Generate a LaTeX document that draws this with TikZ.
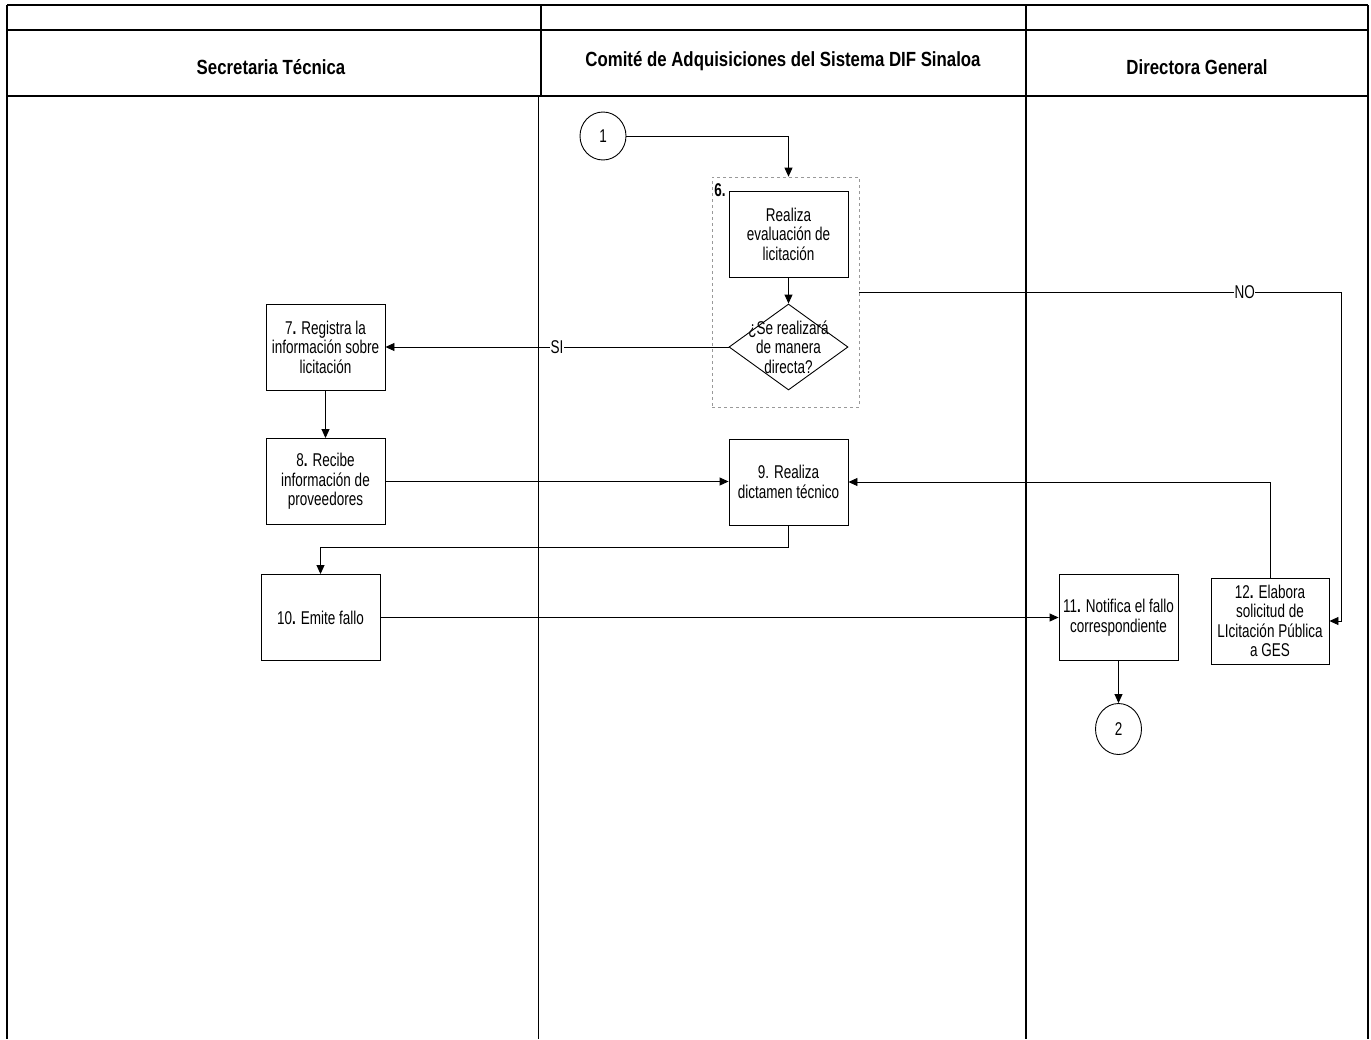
\documentclass[tikz,border=0pt]{standalone}
\usepackage{fontspec}
\setmainfont{Liberation Sans}
\newfontfamily\nf[FakeStretch=0.73]{Liberation Sans}
\newfontfamily\hf[FakeStretch=0.82]{Liberation Sans}
\usetikzlibrary{arrows.meta,shapes.geometric}
\tikzset{
  frame/.style={line width=1.6pt, black},
  hdr/.style={font=\hf\bfseries\fontsize{20.5}{22}\selectfont, inner sep=0pt},
  stepbox/.style={draw, line width=0.9pt, minimum width=119pt, minimum height=86pt,
    align=center, inner sep=0pt, font=\nf\fontsize{18.5}{19.5}\selectfont},
  dia/.style={draw, line width=0.9pt, diamond, aspect=1, minimum width=119pt, minimum height=86pt, inner sep=0pt},
  txt/.style={align=center, inner sep=0pt, font=\nf\fontsize{18.5}{19.5}\selectfont},
  conn/.style={draw, line width=0.9pt, ellipse, minimum width=46pt, minimum height=48pt, inner sep=0pt,
    font=\nf\fontsize{18.5}{19.5}\selectfont},
  grpbox/.style={draw=gray!80, dashed, line width=0.7pt, minimum width=147pt, minimum height=230pt, inner sep=0pt},
  arr/.style={line width=0.9pt, -{Triangle[length=9pt,width=8pt]}},
  ln/.style={line width=0.9pt},
  lab/.style={fill=white, inner sep=0.5pt, font=\nf\fontsize{18.5}{19.5}\selectfont},
}
\begin{document}
\begin{tikzpicture}[x=1pt,y=-1pt]
\useasboundingbox[fill=white] (0,0) rectangle (1371,1039);
% frame
\draw[frame] (7,5) -- (1368,5);
\draw[frame] (7,30) -- (1368,30);
\draw[frame] (7,96) -- (1368,96);
\draw[frame] (7,5) -- (7,1039);
\draw[frame] (1368,5) -- (1368,1039);
\draw[frame] (541,5) -- (541,96);
\draw[frame] (538.5,96) -- (538.5,1039);
\draw[frame] (1026,5) -- (1026,1039);
% headers
\node[hdr] (h1) at (271,67) {Secretaria Técnica};
\node[hdr] (h2) at (783,61) {Comité de Adquisiciones del Sistema DIF Sinaloa};
\node[hdr] (h3) at (1197,67) {Directora General};
% nodes
\node[conn] (c1) at (603,136) {1};
\node[grpbox] (grp) at (785.5,292) {};
\node[txt, font=\nf\bfseries\fontsize{18.5}{19.5}\selectfont] (n6) at (720,190) {6.};
\node[stepbox] (b6) at (788.5,234) {Realiza\\evaluación de\\licitación};
\node[dia] (d) at (788.5,347) {};
\node[txt] (dt) at (788.5,347) {¿Se realizará\\de manera\\directa?};
\node[stepbox] (b7) at (325.5,347) {7\textbf{.} Registra la\\información sobre\\licitación};
\node[stepbox] (b8) at (325.5,481.5) {8\textbf{.} Recibe\\información de\\proveedores};
\node[stepbox] (b9) at (788.5,482) {9. Realiza\\dictamen técnico};
\node[stepbox] (b10) at (320.5,617.5) {10\textbf{.} Emite fallo};
\node[stepbox] (b11) at (1118.5,617.5) {11\textbf{.} Notifica el fallo\\correspondiente};
\node[stepbox, minimum width=118pt] (b12) at (1270,621) {12\textbf{.} Elabora\\solicitud de\\LIcitación Pública\\a GES};
\node[conn, minimum height=51pt] (c2) at (1118.5,729) {2};
\coordinate (noc) at (1341,292);
% connectors
\draw[arr] (c1.east) -| (grp.north -| b6.south);
\draw[arr] (b6.south) -- (d.north);
\draw[arr] (d.west) -- node[lab]{SI} (b7.east);
\draw[ln] (grp.east) -- node[lab, pos=0.80]{NO} (noc);
\draw[arr] (noc) |- (b12.east);
\draw[arr] (b7.south) -- (b8.north);
\draw[arr] (b8.east) -- (b8.east -| b9.west);
\draw[arr] (b12.north) |- (b9.east);
\draw[arr] (b9.south) -- ++(0,22) -| (b10.north);
\draw[arr] (b10.east) -- (b11.west);
\draw[arr] (b11.south) -- (c2.north);
\end{tikzpicture}
\end{document}
